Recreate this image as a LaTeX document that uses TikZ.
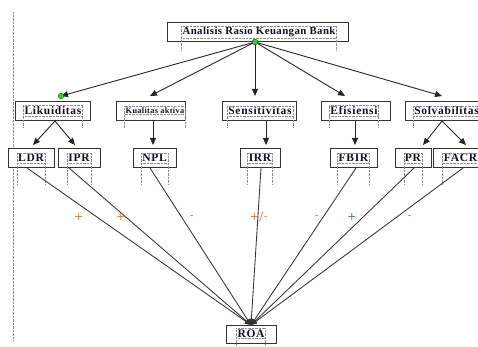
\documentclass[tikz,border=0pt]{standalone}
\usepackage{fontspec}
\setmainfont{Liberation Serif}
\newfontfamily\lblfont[LetterSpace=6]{Liberation Serif}
\newfontfamily\lblfontb[LetterSpace=4]{Liberation Serif}
\usetikzlibrary{arrows.meta,calc}
\definecolor{txtc}{RGB}{15,15,45}
\definecolor{dotgreen}{RGB}{30,225,30}
\definecolor{signor}{RGB}{205,120,40}
\definecolor{signbl}{RGB}{50,115,190}
\definecolor{signgr}{RGB}{100,100,100}
\newcommand\txtframe[2]{%
  \draw[dotfr] (#1.north west) -- (#1.north east);
  \draw[dotfr] (#1.south west) -- (#1.south east);
  \draw[dotfr] (#1.north west) -- ++(0,#2);
  \draw[dotfr] (#1.north east) -- ++(0,#2);}
\begin{document}
\begin{tikzpicture}[x=1pt,y=-1pt,
  box/.style={draw=black!80,line width=1pt,fill=white,inner sep=0pt,minimum height=19pt},
  lbl/.style={font=\lblfont\bfseries\fontsize{11.5}{12}\selectfont,inner xsep=1pt,inner ysep=1pt,text=txtc},
  arr/.style={draw=black!85,line width=0.9pt,-{Triangle[length=7pt,width=6pt]}},
  conn/.style={draw=black!80,line width=0.85pt,-{Triangle[length=6pt,width=5pt]}},
  dotfr/.style={draw=black!45,line width=0.5pt,dash pattern=on 0.7pt off 0.7pt},
  sign/.style={font=\sffamily\bfseries\fontsize{10}{10}\selectfont,inner sep=0pt},
  gdot/.style={circle,fill=dotgreen,draw=black!60!green,line width=0.4pt,inner sep=0pt,minimum size=5.5pt}]
\useasboundingbox (0,0) rectangle (478,347);

% left dotted margin line
\draw[dotfr,line width=1pt] (13,12) -- (13,341);

% boxes
\node[box,minimum width=181pt] (top) at (257.5,32.5) {};
\node[box,minimum width=75pt] (lik) at (52.5,111.5) {};
\node[box,minimum width=69pt] (kua) at (150.5,111.5) {};
\node[box,minimum width=74pt] (sen) at (259,111.5) {};
\node[box,minimum width=69pt] (efi) at (355.5,111.5) {};
\node[box,minimum width=77pt] (sol) at (443.5,111.5) {};
\node[box,minimum width=46pt] (ldr) at (31,158.5) {};
\node[box,minimum width=42pt] (ipr) at (79,158.5) {};
\node[box,minimum width=43pt] (npl) at (154.5,158.5) {};
\node[box,minimum width=40pt] (irr) at (260,158.5) {};
\node[box,minimum width=47pt] (fbir) at (353.5,158.5) {};
\node[box,minimum width=36pt] (pr) at (413,158.5) {};
\node[box,minimum width=49pt] (facr) at (457.5,158.5) {};
\node[box,minimum width=50pt,minimum height=18pt] (roa) at (251,334) {};

% texts
\node[lbl,font=\lblfontb\bfseries\fontsize{10.8}{12}\selectfont] (topT) at (259,32) {Analisis Rasio Keuangan Bank};
\node[lbl] (likT) at (53,111) {Likuiditas};
\node[lbl,font=\lblfontb\bfseries\fontsize{8.3}{10}\selectfont] (kuaT) at (155,110.5) {Kualitas aktiva};
\node[lbl] (senT) at (260,111) {Sensitivitas};
\node[lbl] (efiT) at (354,111) {Efisiensi};
\node[lbl] (solT) at (446.5,111) {Solvabilitas};
\node[lbl] (ldrT) at (31,158) {LDR};
\node[lbl] (iprT) at (79,158) {IPR};
\node[lbl] (nplT) at (154.5,158) {NPL};
\node[lbl] (irrT) at (260,158) {IRR};
\node[lbl] (fbirT) at (353.5,158) {FBIR};
\node[lbl] (prT) at (413,158) {PR};
\node[lbl] (facrT) at (460.5,158) {FACR};
\node[lbl] (roaT) at (251,333.5) {ROA};

% dotted text frames
\txtframe{topT}{25}
\txtframe{likT}{22}
\txtframe{kuaT}{22}
\txtframe{senT}{22}
\txtframe{efiT}{22}
\txtframe{solT}{22}
\txtframe{ldrT}{32}
\txtframe{iprT}{32}
\txtframe{nplT}{32}
\txtframe{irrT}{32}
\txtframe{fbirT}{32}
\txtframe{prT}{32}
\txtframe{facrT}{32}
\txtframe{roaT}{18}

% connector end points
\coordinate (likIn) at (61,96);
\coordinate (kuaIn) at (150,96);
\coordinate (senIn) at (255,96);
\coordinate (efiIn) at (345,96);
\coordinate (solIn) at (442,96);
\coordinate (likOut) at (55,121);
\coordinate (kuaOut) at (153,121);
\coordinate (senOut) at (266,121);
\coordinate (efiOut) at (355,121);
\coordinate (solOut) at (442,121);
\coordinate (ldrIn) at (33,145);
\coordinate (iprIn) at (75,145);
\coordinate (nplIn) at (153,145);
\coordinate (irrIn) at (266,145);
\coordinate (fbirIn) at (355,145);
\coordinate (prIn) at (423,145);
\coordinate (facrIn) at (466,145);
\coordinate (ldrOut) at (27,168);
\coordinate (iprOut) at (69,168);
\coordinate (nplOut) at (150,168);
\coordinate (irrOut) at (261,168);
\coordinate (fbirOut) at (356,168);
\coordinate (prOut) at (414,168);
\coordinate (facrOut) at (463,168);
\coordinate (roaIn) at (251,325);

\node[gdot] (g0) at (255,42) {};

% top level arrows
\foreach \t in {likIn,kuaIn,senIn,efiIn,solIn}
  \draw[arr] (g0.center) -- (\t);

% second to third level
\draw[arr] (likOut) -- (ldrIn);
\draw[arr] (likOut) -- (iprIn);
\draw[arr] (kuaOut) -- (nplIn);
\draw[arr] (senOut) -- (irrIn);
\draw[arr] (efiOut) -- (fbirIn);
\draw[arr] (solOut) -- (prIn);
\draw[arr] (solOut) -- (facrIn);

% third level to ROA
\foreach \s in {ldrOut,iprOut,nplOut,irrOut,fbirOut,prOut,facrOut}
  \draw[conn] (\s) -- (roaIn);

\node[gdot] (g0b) at (255,42) {};
\node[gdot] (g1) at (61,96) {};

% signs
\node[sign,text=signor] (s1) at (79,217) {+};
\node[sign,text=signor] (s2) at (121,217) {+};
\node[sign,text=signgr] (s3) at (192,217) {-};
\node[sign,text=signor] (s4) at (259,217) {+/-};
\node[sign,text=signgr] (s5) at (317,217) {-};
\node[sign,text=signbl] (s6) at (352,217) {+};
\node[sign,text=signgr] (s7) at (410,217) {-};
\end{tikzpicture}
\end{document}
